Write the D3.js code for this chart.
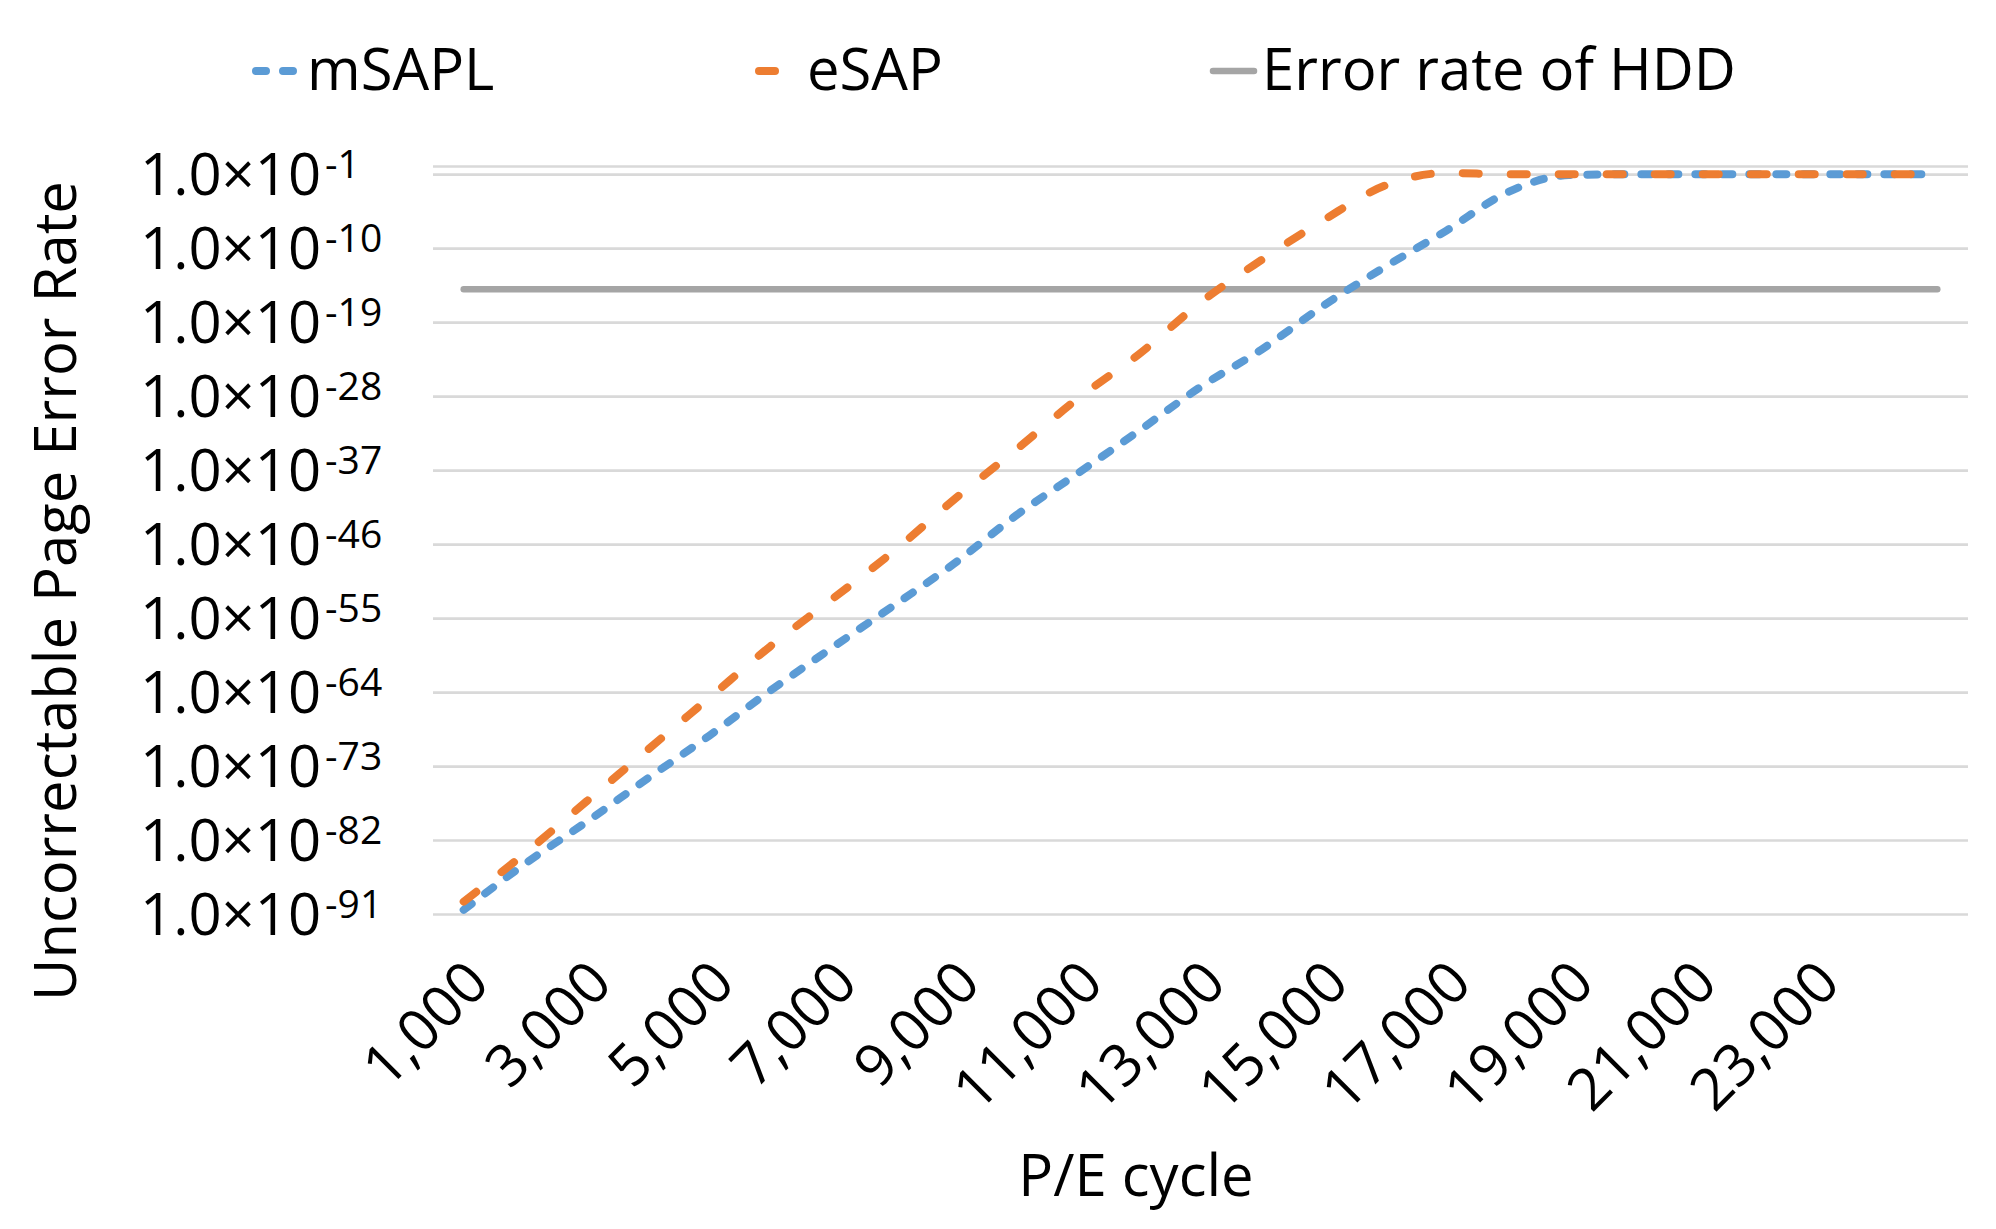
<!DOCTYPE html>
<html>
    <head>
        <title>Uncorrectable Page Error Rate</title>
        <script src="https://d3js.org/d3.v7.min.js"></script>
        <style>
            body { margin:0; background:#fff; }
            svg { width:1996px; height:1229px; display:block; }
            text { font-family:"Open Sans", "Noto Sans", sans-serif; fill:#000; }
            .grid line { stroke:#d9d9d9; stroke-width:2.7px; }
        </style>
    </head>
    <body>
        <svg id="chart"></svg>
    </body>
    <script>
        // data
        const categories = [1000, 2000, 3000, 4000, 5000, 6000, 7000, 8000, 9000, 10000, 11000, 12000, 13000,
                            14000, 15000, 16000, 17000, 18000, 19000, 20000, 21000, 22000, 23000, 24000, 25000];
        const mSAPL = [3.2e-91, 1.3e-85, 1.6e-80, 3.2e-75, 5.0e-70, 1.6e-64, 2.5e-59, 3.2e-54, 5.0e-49, 3.2e-43,
                       4.0e-38, 6.3e-33, 1.3e-27, 5.0e-23, 1.0e-17, 5.0e-13, 1.3e-8, 6.3e-4, 7.9e-2, 0.1,
                       0.1, 0.1, 0.1, 0.1, 0.1];
        const eSAP = [3.2e-90, 2.5e-84, 5.0e-78, 1.0e-71, 2.0e-65, 4.0e-59, 2.0e-53, 1.3e-47, 3.2e-41, 3.2e-35,
                      5.0e-29, 1.3e-23, 2.5e-17, 4.0e-12, 2.5e-7, 4.0e-3, 0.14, 0.1, 0.1, 0.1,
                      0.1, 0.1, 0.1, 0.1, 0.1];
        const hddRate = [1e-15, 1e-15, 1e-15, 1e-15, 1e-15, 1e-15, 1e-15, 1e-15, 1e-15, 1e-15, 1e-15, 1e-15, 1e-15,
                         1e-15, 1e-15, 1e-15, 1e-15, 1e-15, 1e-15, 1e-15, 1e-15, 1e-15, 1e-15, 1e-15, 1e-15];
        const xTickLabels = [1000, 3000, 5000, 7000, 9000, 11000, 13000, 15000, 17000, 19000, 21000, 23000];
        const yTickValues = [1e-91, 1e-82, 1e-73, 1e-64, 1e-55, 1e-46, 1e-37, 1e-28, 1e-19, 1e-10, 1e-1];
        const yMin = 1e-91, yMax = 1;

        const series = [
            { name:'HDD', label:'Error rate of HDD', values:hddRate, color:'#a5a5a5', width:6.5, dash:null },
            { name:'mSAPL', label:'mSAPL', values:mSAPL, color:'#5b9bd5', width:8, dash:'10 17' },
            { name:'eSAP', label:'eSAP', values:eSAP, color:'#ed7d31', width:8, dash:'16 32' }
        ];

        const svg = d3.select('#chart');
        const width = 1996, height = 1229;
        const margin = { top:166, bottom:315, right:28, left:433 };
        const innerWidth = width - margin.left - margin.right;
        const innerHeight = height - margin.top - margin.bottom;

        const xScale = d3.scaleBand().domain(categories).range([0, innerWidth]).padding(0);
        const xPos = c => xScale(c) + xScale.bandwidth() / 2;
        const yScale = d3.scaleLog().domain([yMin, yMax]).range([innerHeight, 0]);

        const g = svg.append('g').attr('transform', `translate(${margin.left},${margin.top})`);

        // horizontal gridlines (ticks plus the axis max)
        const grid = g.append('g').attr('class', 'grid')
            .call(d3.axisLeft(yScale).tickValues(yTickValues.concat([yMax])).tickSize(-innerWidth).tickFormat(''));
        grid.select('.domain').remove();

        // y tick labels: 1.0x10^n
        const yAxis = g.append('g')
            .call(d3.axisLeft(yScale).tickValues(yTickValues).tickSize(0).tickFormat(''));
        yAxis.select('.domain').remove();
        yAxis.selectAll('.tick text').each(function(d) {
            const t = d3.select(this)
                .attr('x', 140 - margin.left)
                .attr('dy', '0.35em')
                .attr('text-anchor', 'start')
                .style('font-size', '58px');
            t.append('tspan').text('1.0\u00d710');
            t.append('tspan').attr('dy', '-17px').attr('dx', '4px').style('font-size', '39px')
                .text('-' + Math.round(-Math.log10(d)));
        });

        // x axis, labels rotated
        const xAxis = g.append('g').attr('transform', `translate(0,${innerHeight})`)
            .call(d3.axisBottom(xScale).tickValues(xTickLabels).tickSize(0).tickFormat(d3.format(',')));
        xAxis.select('.domain').remove();
        xAxis.selectAll('text')
            .style('font-size', '58px')
            .style('text-anchor', 'end')
            .attr('dominant-baseline', 'central')
            .attr('x', 0).attr('y', 0).attr('dy', null)
            .attr('transform', 'translate(12,56) rotate(-45)');

        // lines
        const line = d3.line()
            .x((d, i) => xPos(categories[i]))
            .y(d => yScale(d))
            .curve(d3.curveMonotoneX);
        g.selectAll('.series').data(series).enter()
            .append('path')
            .attr('class', 'series')
            .attr('d', d => line(d.values))
            .attr('fill', 'none')
            .attr('stroke', d => d.color)
            .attr('stroke-width', d => d.width)
            .attr('stroke-linecap', 'round')
            .attr('stroke-dasharray', d => d.dash);

        // legend
        const legendItems = [
            { s:series[1], x1:256, x2:300, tx:307 },
            { s:series[2], x1:759, x2:805, tx:807 },
            { s:series[0], x1:1213, x2:1254, tx:1262 }
        ];
        const legend = svg.append('g');
        legendItems.forEach(it => {
            legend.append('line')
                .attr('x1', it.x1).attr('x2', it.x2).attr('y1', 71).attr('y2', 71)
                .attr('stroke', it.s.color).attr('stroke-width', it.s.width)
                .attr('stroke-linecap', 'round')
                .attr('stroke-dasharray', it.s.dash);
            legend.append('text')
                .attr('x', it.tx).attr('y', 90)
                .style('font-size', '58px')
                .text(it.s.label);
        });

        // axis titles
        svg.append('text')
            .attr('text-anchor', 'middle')
            .attr('x', 1136).attr('y', 1196)
            .style('font-size', '58px')
            .text('P/E cycle');
        svg.append('text')
            .attr('text-anchor', 'middle')
            .attr('transform', 'translate(76,591) rotate(-90)')
            .style('font-size', '58px')
            .text('Uncorrectable Page Error Rate');
    </script>
</html>
